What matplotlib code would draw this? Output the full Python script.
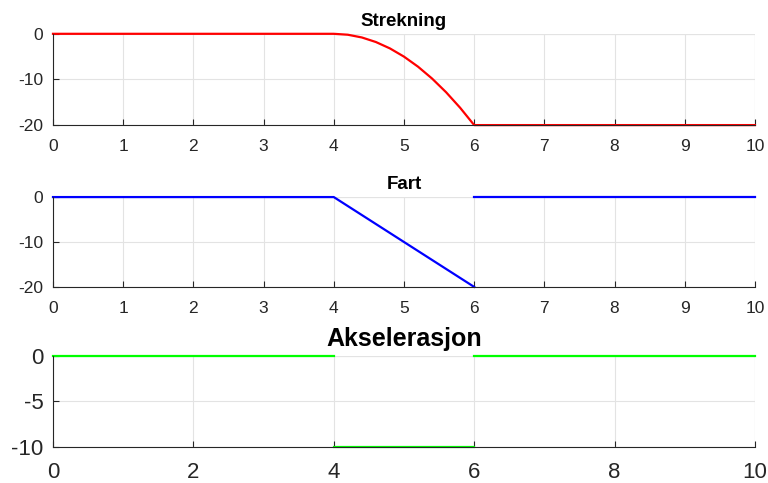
import matplotlib
matplotlib.use("Agg")
import matplotlib.pyplot as plt
import numpy as np

plt.rcParams['font.family'] = ['Liberation Sans', 'DejaVu Sans']
plt.rcParams['axes.unicode_minus'] = False

# Strekning (posisjon) - parabel mellom t=4 og t=6
t_strekning = [0, 4, 4.2, 4.4, 4.6, 4.8, 5.0, 5.2, 5.4, 5.6, 5.8, 6, 10]
strekning = [0, 0, -0.2, -0.8, -1.8, -3.2, -5, -7.2, -9.8, -12.8, -16.2, -20, -20]

# Fart - to segmenter, hopp ved t=6
t_fart_1 = [0, 4, 6]
fart_1 = [0, 0, -20]
t_fart_2 = [6, 10]
fart_2 = [0, 0]

# Akselerasjon - tre segmenter
t_aks = [[0, 4], [4, 6], [6, 10]]
aks = [[0, 0], [-10, -10], [0, 0]]

akse_farge = '#262626'
grid_farge = '#e3e3e3'


def stil_akse(ax, xticks, yticks, ylim, fs, xpad):
    ax.set_xlim(0, 10)
    ax.set_ylim(*ylim)
    ax.set_xticks(xticks)
    ax.set_yticks(yticks)
    ax.grid(True, color=grid_farge, linewidth=0.8)
    ax.set_axisbelow(True)
    for s in ['top', 'right']:
        ax.spines[s].set_visible(False)
    for s in ['left', 'bottom']:
        ax.spines[s].set_color(akse_farge)
        ax.spines[s].set_linewidth(0.8)
    ax.tick_params(direction='in', length=4, width=0.8, colors=akse_farge,
                   labelsize=fs, labelcolor=akse_farge)
    ax.tick_params(axis='x', pad=xpad)
    ax.tick_params(axis='y', pad=7)
    # topp- og høyre grenselinje vises som gridlinjer
    ax.axhline(ylim[1], color=grid_farge, linewidth=0.8, zorder=0)
    ax.axvline(10, color=grid_farge, linewidth=0.8, zorder=0)


fig = plt.figure(figsize=(7.68, 4.83), dpi=100)
venstre, bredde = 0.069, 0.914
ax1 = fig.add_axes([venstre, 0.741, bredde, 0.189])
ax2 = fig.add_axes([venstre, 0.406, bredde, 0.186])
ax3 = fig.add_axes([venstre, 0.0745, bredde, 0.189])

# Strekning
ax1.plot(t_strekning, strekning, color='red', linewidth=1.6, clip_on=False)
stil_akse(ax1, range(0, 11), [-20, -10, 0], (-20, 0), 12.5, 10)
ax1.set_title('Strekning', fontsize=13.5, fontweight='bold', pad=5.5)

# Fart
ax2.plot(t_fart_1, fart_1, color='blue', linewidth=1.6, clip_on=False)
ax2.plot(t_fart_2, fart_2, color='blue', linewidth=1.6, clip_on=False)
stil_akse(ax2, range(0, 11), [-20, -10, 0], (-20, 0), 12.5, 10)
ax2.set_title('Fart', fontsize=13.5, fontweight='bold', pad=5.5)

# Akselerasjon
for t, a in zip(t_aks, aks):
    ax3.plot(t, a, color='#00ff00', linewidth=1.6, clip_on=False)
stil_akse(ax3, range(0, 11, 2), [-10, -5, 0], (-10, 0), 16, 11)
ax3.set_title('Akselerasjon', fontsize=18, fontweight='bold', pad=7)

fig.savefig('out.png', dpi=100)
